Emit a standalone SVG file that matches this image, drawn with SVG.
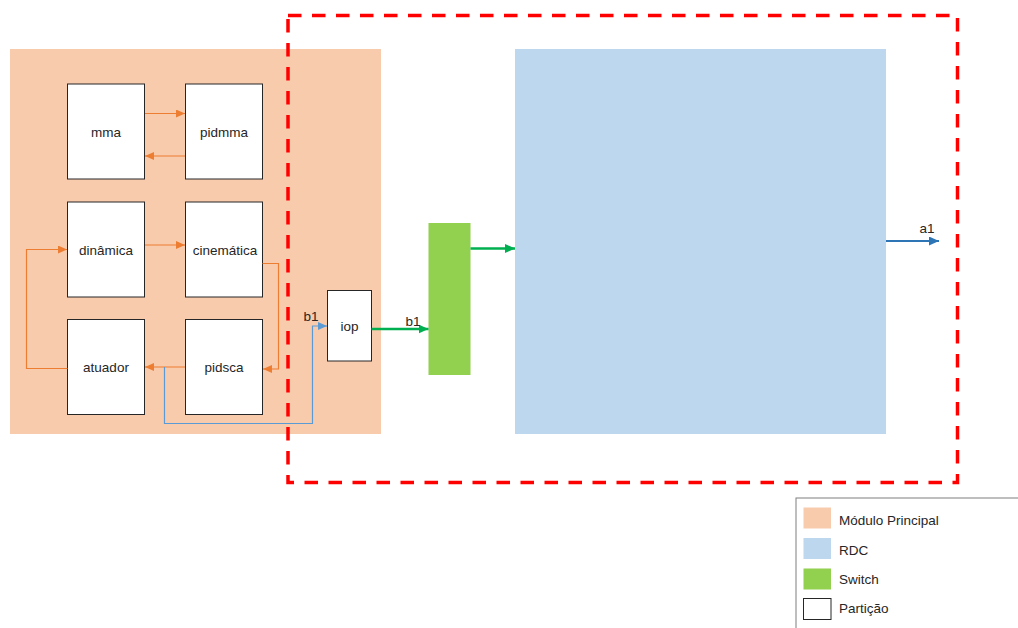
<svg xmlns="http://www.w3.org/2000/svg" width="1018" height="628" viewBox="0 0 1018 628">
<style>
.lbl{font-family:"Liberation Sans",Arial,sans-serif;font-size:13.5px;fill:#262626;text-anchor:middle}
.leg{font-family:"Liberation Sans",Arial,sans-serif;font-size:13.5px;fill:#262626}
.part{fill:#ffffff;stroke:#262626;stroke-width:1}
.or{fill:none;stroke:#ED7D31;stroke-width:1.2}
.bl{fill:none;stroke:#5B9BD5;stroke-width:1.2}
.gr{fill:none;stroke:#00B050;stroke-width:2.5}
.a1{fill:none;stroke:#2E75B6;stroke-width:1.8}
</style>
<defs>
<marker id="mOr" markerUnits="userSpaceOnUse" markerWidth="9" markerHeight="8" refX="9" refY="4" orient="auto"><path d="M0,0 L9,4 L0,8 z" fill="#ED7D31"/></marker>
<marker id="mBl" markerUnits="userSpaceOnUse" markerWidth="9" markerHeight="8" refX="9" refY="4" orient="auto"><path d="M0,0 L9,4 L0,8 z" fill="#5B9BD5"/></marker>
<marker id="mGr" markerUnits="userSpaceOnUse" markerWidth="10" markerHeight="9" refX="10" refY="4.5" orient="auto"><path d="M0,0 L10,4.5 L0,9 z" fill="#00B050"/></marker>
<marker id="mA1" markerUnits="userSpaceOnUse" markerWidth="10" markerHeight="9" refX="10" refY="4.5" orient="auto"><path d="M0,0 L10,4.5 L0,9 z" fill="#2E75B6"/></marker>
</defs>
<rect width="1018" height="628" fill="#ffffff"/>
<g id="modulo-principal"><rect x="10" y="49" width="371" height="385" fill="#F8CBAD"/></g>
<g id="rdc"><rect x="515" y="49" width="371" height="385" fill="#BDD7EE"/></g>
<g id="switch"><rect x="428.5" y="223" width="42" height="152" fill="#92D050"/></g>
<g id="mma"><rect class="part" x="67.5" y="84" width="77" height="95"/><text class="lbl" x="106" y="136.5">mma</text></g>
<g id="pidmma"><rect class="part" x="185.5" y="84" width="77" height="95"/><text class="lbl" x="224" y="136.5">pidmma</text></g>
<g id="dinamica"><rect class="part" x="67.5" y="202" width="77" height="95"/><text class="lbl" x="106" y="254.5">dinâmica</text></g>
<g id="cinematica"><rect class="part" x="185.5" y="202" width="77" height="95"/><text class="lbl" x="225" y="254.5">cinemática</text></g>
<g id="atuador"><rect class="part" x="67.5" y="319.5" width="77" height="95"/><text class="lbl" x="106" y="371.5">atuador</text></g>
<g id="pidsca"><rect class="part" x="185.5" y="319.5" width="77" height="95"/><text class="lbl" x="224" y="371.5">pidsca</text></g>
<g id="iop"><rect class="part" x="327.5" y="290.5" width="44" height="70.5"/><text class="lbl" x="349.5" y="331">iop</text></g>
<g id="connectors">
<path class="or" d="M145,113.5 H185" marker-end="url(#mOr)"/>
<path class="or" d="M185,156 H145" marker-end="url(#mOr)"/>
<path class="or" d="M145,245 H185" marker-end="url(#mOr)"/>
<path class="or" d="M262.5,263.5 H278.5 V369 H263" marker-end="url(#mOr)"/>
<path class="or" d="M185,367 H145" marker-end="url(#mOr)"/>
<path class="or" d="M67.5,368.5 H26.5 V249.5 H67" marker-end="url(#mOr)"/>
<path class="bl" d="M164.5,367 V423.5 H312.5 V326 H327" marker-end="url(#mBl)"/>
<path class="gr" d="M371.5,329 H428.5" marker-end="url(#mGr)"/>
<path class="gr" d="M470.5,248.5 H515" marker-end="url(#mGr)"/>
<path class="a1" d="M886,241 H939" marker-end="url(#mA1)"/>
<text class="lbl" x="311" y="320.5">b1</text>
<text class="lbl" x="413" y="325.5">b1</text>
<text class="lbl" x="927" y="233">a1</text>
</g>
<g id="particao-limite"><rect x="288" y="15.5" width="669.5" height="467" fill="none" stroke="#FF0000" stroke-width="3.5" stroke-dasharray="13.5,10.5"/></g>
<g id="legenda">
<rect x="796" y="498" width="240" height="150" fill="#ffffff" stroke="#7F7F7F" stroke-width="1"/>
<rect x="803.5" y="507.5" width="27.5" height="21" fill="#F8CBAD"/>
<text class="leg" x="839" y="524.5">Módulo Principal</text>
<rect x="803.5" y="538" width="27.5" height="21" fill="#BDD7EE"/>
<text class="leg" x="839" y="554.5">RDC</text>
<rect x="803.5" y="568.5" width="27.5" height="21" fill="#92D050"/>
<text class="leg" x="839" y="584">Switch</text>
<rect class="part" x="803.5" y="598.5" width="27.5" height="21"/>
<text class="leg" x="839" y="613">Partição</text>
</g>
</svg>
